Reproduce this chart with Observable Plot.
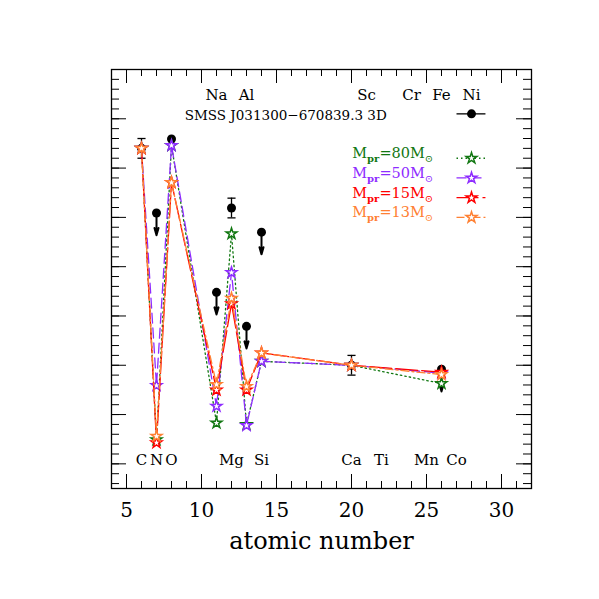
<!DOCTYPE html>
<html><head><meta charset="utf-8">
<script src="https://cdn.jsdelivr.net/npm/d3@7"></script>
<script src="https://cdn.jsdelivr.net/npm/@observablehq/plot@0.6"></script>
<style>body{margin:0;background:#fff}</style>
</head><body><div id="chart"></div>
<script>
// atomic numbers of the model points
const Z = [6, 7, 8, 11, 12, 13, 14, 20, 26];
// model yields ([X/H]) per progenitor mass
const m80 = [-2.60, -8.51, -2.54, -8.17, -4.33, -8.20, -6.92, -7.00, -7.37];
const m50 = [-2.60, -7.41, -2.54, -7.83, -5.12, -8.22, -6.92, -7.00, -7.16];
const m15 = [-2.60, -8.57, -3.29, -7.50, -5.75, -7.50, -6.75, -7.00, -7.14];
const m13 = [-2.60, -8.44, -3.29, -7.39, -5.64, -7.43, -6.75, -7.00, -7.19];
// observed detections (SMSS J031300-670839.3, 3D)
const detZ = [6, 8, 12, 20];
const detY = [-2.60, -2.41, -3.81, -7.00];
const detErr = [0.2, 0, 0.2, 0.2];
// observed upper limits
const limZ = [7, 11, 13, 14, 26];
const limY = [-3.91, -5.52, -6.21, -4.30, -7.08];
// element labels
const topLabels = ["Na", "Al", "Sc", "Cr", "Fe", "Ni"];
const topZ = [11, 13, 21, 24, 26, 28];
const botLabels = ["C", "N", "O", "Mg", "Si", "Ca", "Ti", "Mn", "Co"];
const botZ = [6, 7, 8, 12, 14, 20, 22, 25, 27];
// series / legend
const masses = [80, 50, 15, 13];
const colors = ["#117711", "#8e2cff", "#ff0000", "#ff8033"];
const dashes = ["1.5,3", "10,5", "22,4", "8,3,2,3"];
const starName = "SMSS J031300\u2212670839.3 3D";
const xLabel = "atomic number";
// axis ticks
const xMajor = [5, 10, 15, 20, 25, 30];
const xMinor = d3.range(4, 33);
const yMajor = [-9, -8, -7, -6, -5, -4, -3, -2];
const yMinor = d3.range(-47, -4).map(i => i / 5);

const W = 599, H = 599, mL = 111, mR = 68, mT = 69, mB = 111;
const FW = W - mL - mR, FH = H - mT - mB;
const font = "DejaVu Serif";
const series = [m80, m50, m15, m13];

const legY = [-2.8, -3.2, -3.6, -4.0];
const marks = [];

// frame ticks (inward)
marks.push(Plot.tickX(xMinor, {x: d => d, insetTop: FH - 7, stroke: "black"}));
marks.push(Plot.tickX(xMajor, {x: d => d, insetTop: FH - 14, stroke: "black"}));
marks.push(Plot.tickX(xMinor, {x: d => d, insetBottom: FH - 7, stroke: "black"}));
marks.push(Plot.tickX(xMajor, {x: d => d, insetBottom: FH - 14, stroke: "black"}));
marks.push(Plot.tickY(yMinor, {y: d => d, insetRight: FW - 8, stroke: "black"}));
marks.push(Plot.tickY(yMajor, {y: d => d, insetRight: FW - 15, stroke: "black"}));
marks.push(Plot.tickY(yMinor, {y: d => d, insetLeft: FW - 8, stroke: "black"}));
marks.push(Plot.tickY(yMajor, {y: d => d, insetLeft: FW - 15, stroke: "black"}));
marks.push(Plot.frame({stroke: "black", strokeWidth: 1.3}));
marks.push(Plot.axisX(xMajor, {tickSize: 0, tickPadding: 14, fontSize: 20, fontFamily: font, label: null}));
marks.push(Plot.text([xLabel], {frameAnchor: "bottom", dy: 60, text: d => d, lineAnchor: "bottom",
  fontSize: 24, fontFamily: font, fill: "black"}));

// element labels
marks.push(Plot.text(topLabels, {x: (d, i) => topZ[i], y: () => -1.61, text: d => d,
  lineAnchor: "bottom", fontSize: 15, fontFamily: font, fill: "black"}));
marks.push(Plot.text(botLabels, {x: (d, i) => botZ[i], y: () => -9.02, text: d => d,
  lineAnchor: "bottom", fontSize: 15, fontFamily: font, fill: "black"}));

// observed detections: error bars + dots
const det = detZ.map((z, i) => ({z, y: detY[i], e: detErr[i]})).filter(d => d.e > 0);
marks.push(Plot.ruleX(det, {x: "z", y1: d => d.y - d.e, y2: d => d.y + d.e, stroke: "black", strokeWidth: 1.3}));
marks.push(Plot.link(det, {x1: d => d.z - 0.27, x2: d => d.z + 0.27, y1: d => d.y - d.e, y2: d => d.y - d.e, stroke: "black", strokeWidth: 1.3}));
marks.push(Plot.link(det, {x1: d => d.z - 0.27, x2: d => d.z + 0.27, y1: d => d.y + d.e, y2: d => d.y + d.e, stroke: "black", strokeWidth: 1.3}));
marks.push(Plot.dot(detZ.map((z, i) => ({z, y: detY[i]})), {x: "z", y: "y", r: 4.5, fill: "black", stroke: "none"}));

// upper limits
const lim = limZ.map((z, i) => ({z, y: limY[i]}));
marks.push(Plot.arrow(lim, {x1: "z", x2: "z", y1: "y", y2: d => d.y - 0.45, stroke: "black",
  strokeWidth: 2, headLength: 14, headAngle: 32}));
marks.push(Plot.dot(lim, {x: "z", y: "y", r: 4.5, fill: "black", stroke: "none"}));

// model series
series.forEach((s, k) => {
  const data = Z.map((z, i) => ({z, y: s[i]}));
  marks.push(Plot.line(data, {x: "z", y: "y", stroke: colors[k], strokeWidth: 1.3, strokeDasharray: dashes[k]}));
  marks.push(Plot.dot(data, {x: "z", y: "y", symbol: "star", r: 3.4, stroke: colors[k], strokeWidth: 1.5, fill: "white"}));
});

// legend: observed star
marks.push(Plot.link([starName], {x1: () => 27.0, x2: () => 28.93, y1: () => -1.9, y2: () => -1.9, stroke: "black", strokeWidth: 1.3}));
marks.push(Plot.dot([starName], {x: () => 28, y: () => -1.9, r: 4.5, fill: "black"}));
marks.push(Plot.text([starName], {x: () => 22.35, y: () => -2.02, text: d => d, textAnchor: "end",
  lineAnchor: "bottom", fontSize: 13.5, fontFamily: font, fill: "black"}));

// legend: models
masses.forEach((m, k) => {
  marks.push(Plot.link([m], {x1: () => 27.0, x2: () => 28.93, y1: () => legY[k], y2: () => legY[k],
    stroke: colors[k], strokeWidth: 1.3, strokeDasharray: dashes[k]}));
  marks.push(Plot.dot([m], {x: () => 28, y: () => legY[k], symbol: "star", r: 3.4, stroke: colors[k], strokeWidth: 1.5, fill: "white"}));
  marks.push(Plot.text([m], {x: () => 20.05, y: () => legY[k], text: d => `M{pr}=${d}M{\u2299}`,
    textAnchor: "start", lineAnchor: "bottom", fontSize: 14.5, fontFamily: font, fill: colors[k]}));
});

const svg = Plot.plot({
  width: W, height: H,
  marginLeft: mL, marginRight: mR, marginTop: mT, marginBottom: mB,
  style: {background: "white", color: "black", fontFamily: font},
  x: {domain: [4, 32]},
  y: {domain: [-9.5, -1], axis: null},
  marks
});

// turn {…} parts of legend labels into subscripts
d3.select(svg).selectAll("text").each(function () {
  const txt = this.textContent;
  if (!txt.includes("{")) return;
  const parts = txt.split(/\{([^}]*)\}/);
  while (this.firstChild) this.removeChild(this.firstChild);
  let shifted = false;
  parts.forEach((p, i) => {
    if (!p) return;
    const sub = i % 2 === 1;
    const ts = document.createElementNS("http://www.w3.org/2000/svg", "tspan");
    ts.textContent = p;
    if (sub) {
      ts.setAttribute("font-size", "10");
      ts.setAttribute("font-weight", p === "pr" ? "bold" : "normal");
      if (!shifted) ts.setAttribute("dy", "4");
      shifted = true;
    } else if (shifted) {
      ts.setAttribute("dy", "-4");
      shifted = false;
    }
    this.appendChild(ts);
  });
});

document.getElementById("chart").appendChild(svg);
</script>
</body></html>
